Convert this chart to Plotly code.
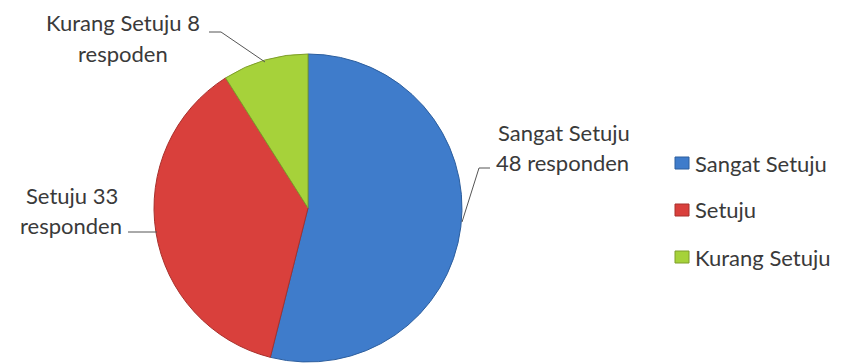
import plotly.graph_objects as go

# Survey responses
categories = ["Sangat Setuju", "Setuju", "Kurang Setuju"]
counts = [48, 33, 8]
units = ["responden", "responden", "respoden"]
colors = ["#3F7CCB", "#D9403C", "#A6D23A"]
edge_colors = ["#2C5E9E", "#A8302C", "#7E9E2A"]

W, H = 842, 364


def px(x):
    return x / W


def py(y):
    return 1 - y / H


fig = go.Figure(
    go.Pie(
        labels=categories,
        values=counts,
        sort=False,
        direction="clockwise",
        rotation=0,
        textinfo="none",
        hoverinfo="label+value",
        marker=dict(colors=colors, line=dict(color=edge_colors, width=1)),
        domain=dict(x=[px(154), px(462)], y=[py(362), py(54)]),
        showlegend=False,
    )
)

font = dict(family="Lato, 'Open Sans', sans-serif", size=22, color="#3A3A3A")

# Data labels, each built from the category name and its count
label_lines = [
    (f"{categories[0]}", 564, 132),
    (f"{counts[0]} {units[0]}", 562, 162),
    (f"{categories[1]} {counts[1]}", 72, 195),
    (f"{units[1]}", 71, 225),
    (f"{categories[2]} {counts[2]}", 123, 22),
    (f"{units[2]}", 123, 53),
]
annotations = [
    dict(text=t, x=px(x), y=py(y), xref="paper", yref="paper",
         xanchor="center", yanchor="middle", showarrow=False, font=font)
    for t, x, y in label_lines
]

# Leader lines from labels to slices
def path(points):
    return "M " + " L ".join(f"{px(x)} {py(y)}" for x, y in points)

leaders = [
    [(490, 168), (479, 168), (462, 222)],
    [(128, 232), (157, 232)],
    [(209, 32), (221, 32), (265, 62)],
]
shapes = [
    dict(type="path", path=path(p), xref="paper", yref="paper",
         line=dict(color="#555555", width=1))
    for p in leaders
]

# Legend: colour keys and names
legend_y = [163, 210, 257]
for name, col, edge, y in zip(categories, colors, edge_colors, legend_y):
    shapes.append(dict(type="rect", xref="paper", yref="paper",
                       x0=px(675), x1=px(689), y0=py(y - 6), y1=py(y + 6),
                       fillcolor=col, line=dict(color=edge, width=1)))
    annotations.append(dict(text=name, x=px(693), y=py(y), xref="paper", yref="paper",
                            xanchor="left", yanchor="middle", showarrow=False, font=font))

fig.update_layout(
    width=W,
    height=H,
    margin=dict(l=0, r=0, t=0, b=0),
    paper_bgcolor="white",
    plot_bgcolor="white",
    annotations=annotations,
    shapes=shapes,
)

fig.write_html("out.html")
